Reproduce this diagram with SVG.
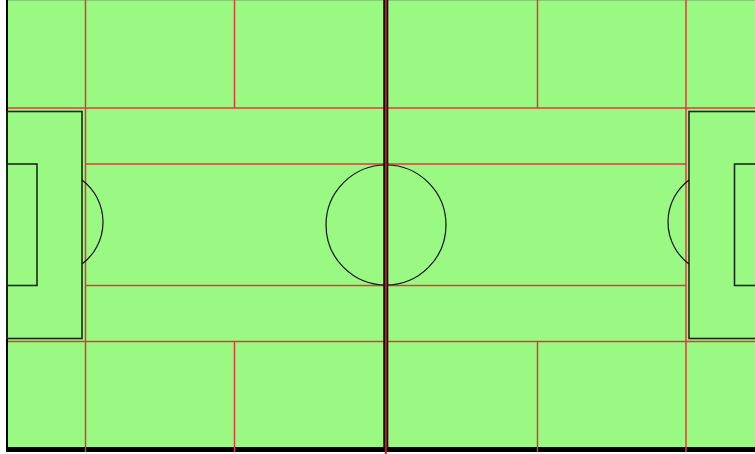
<svg xmlns="http://www.w3.org/2000/svg" width="755" height="454" viewBox="0 0 755 454">
<style>
.red{stroke:#e8363a;stroke-width:1.5;fill:none}
.blk{stroke:#1c2a1c;stroke-width:1.6;fill:none}
.thin{stroke:#111;stroke-width:1.2;fill:none}
</style>
<rect x="0" y="0" width="755" height="454" fill="#ffffff"/>
<g id="field">
<rect x="6" y="0" width="749" height="452" fill="#000"/>
<rect x="8" y="0" width="747" height="447" fill="#99f983"/>
<line x1="8" y1="0.5" x2="755" y2="0.5" stroke="#7fcf6e" stroke-width="1"/>
</g>
<g id="grid">
<line class="red" x1="8" y1="108" x2="755" y2="108"/>
<line class="red" x1="8" y1="341.5" x2="755" y2="341.5"/>
<line class="red" x1="85.5" y1="164" x2="686" y2="164"/>
<line class="red" x1="85.5" y1="285.5" x2="686" y2="285.5"/>
<line class="red" x1="85.5" y1="0" x2="85.5" y2="452"/>
<line class="red" x1="686" y1="0" x2="686" y2="452"/>
<line class="red" x1="234.5" y1="0" x2="234.5" y2="108"/>
<line class="red" x1="234.5" y1="341.5" x2="234.5" y2="452"/>
<line class="red" x1="537.5" y1="0" x2="537.5" y2="108"/>
<line class="red" x1="537.5" y1="341.5" x2="537.5" y2="452"/>
</g>
<g id="left-penalty-area">
<rect class="blk" x="7" y="111.5" width="75" height="227"/>
<rect class="blk" x="7" y="164" width="30" height="121.5"/>
<path class="thin" d="M82 180 A52.5 52.5 0 0 1 82 264"/>
</g>
<g id="right-penalty-area">
<rect class="blk" x="689" y="111.5" width="70" height="227"/>
<rect class="blk" x="734.5" y="164" width="30" height="121.5"/>
<path class="thin" d="M689 180 A52.5 52.5 0 0 0 689 264"/>
</g>
<g id="centre-circle">
<circle class="thin" cx="386" cy="225" r="60"/>
</g>
<g id="halfway-line">
<line x1="385.8" y1="0" x2="385.8" y2="452" stroke="#000" stroke-width="5"/>
<line x1="385.8" y1="0" x2="385.8" y2="454" stroke="#c0201c" stroke-width="2"/>
</g>
</svg>
